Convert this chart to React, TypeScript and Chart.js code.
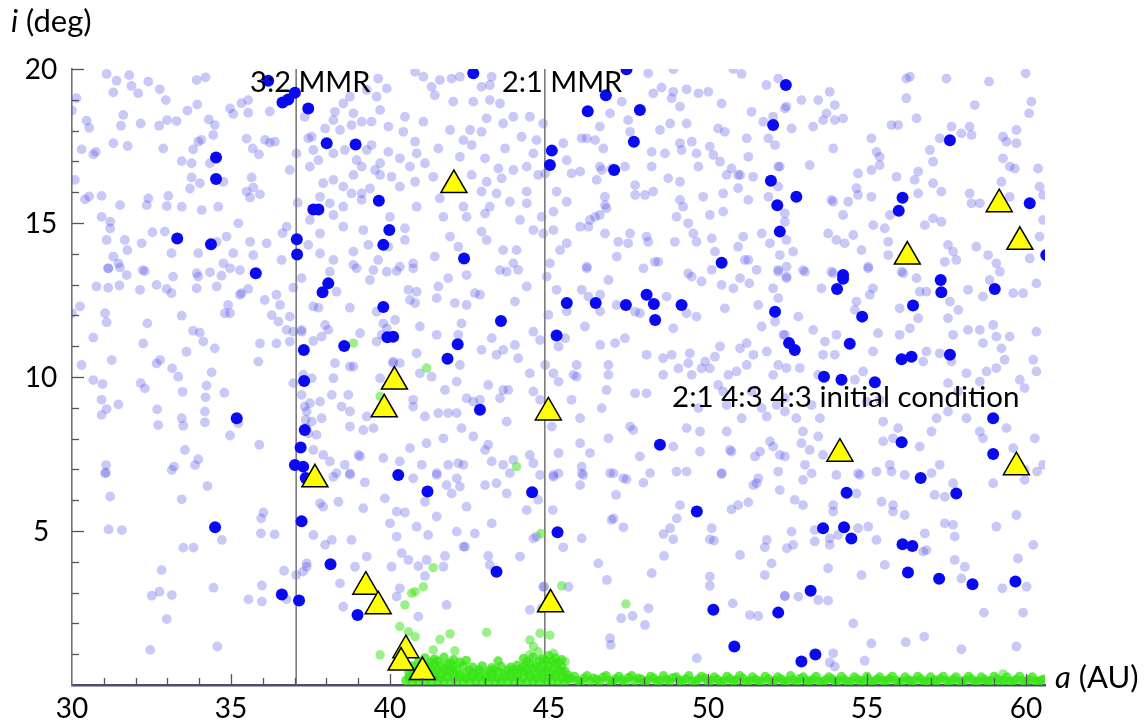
import React, { useEffect, useRef } from 'react';
import { Chart, registerables } from 'chart.js';
Chart.register(...registerables);

// ---- axis ticks ----
const xTickValues = [30, 35, 40, 45, 50, 55, 60];
const yTickValues = [5, 10, 15, 20];

// ---- resonance lines (a in AU) ----
const mmrA = [37.05, 44.87];
const mmrLabels = ['3:2 MMR', '2:1 MMR'];
const mmrLabelA = [35.6, 43.52];
const mmrLabelI = [19.56, 19.56];
const noteText = '2:1 4:3 4:3 initial condition';
const noteA = 48.87;
const noteI = 9.35;

// ---- initial field of test particles (light blue) ----
const lightNW: [number, number][] = [[31.09,19.84],[31.40,19.62],[31.80,19.80],[31.87,19.45],[31.30,19.24],[32.08,19.21],[32.40,19.59],[32.76,19.34],[32.95,18.99],[33.92,19.64],[34.20,19.73],[33.94,18.85],[33.63,18.65],[33.29,18.31],[32.99,18.34],[32.74,18.16],[32.16,18.23],[31.54,18.16],[31.61,18.51],[30.46,18.32],[30.54,18.09],[30.14,19.05],[30.0,18.65],[31.30,17.59],[31.75,17.50],[32.87,17.42],[33.81,17.39],[34.07,17.70],[34.30,18.36],[34.49,18.18],[34.44,17.86],[33.97,17.64],[33.45,17.01],[33.76,16.94],[33.76,16.48],[34.02,16.29],[33.71,16.12],[34.34,16.94],[34.76,16.34],[35.49,17.74],[35.68,17.42],[35.88,17.23],[36.07,17.70],[36.22,17.61],[36.38,17.64],[36.22,18.62],[35.54,18.58],[35.07,18.54],[34.97,18.72],[35.33,18.89],[35.54,18.99],[35.65,16.48],[35.49,16.02],[35.70,16.15],[35.91,15.93],[35.60,15.83],[35.23,14.99],[34.60,15.53],[34.08,15.42],[33.45,15.53],[32.98,15.55],[33.03,15.88],[32.40,15.80],[32.35,15.58],[31.51,15.58],[30.93,15.88],[30.54,15.86],[30.41,15.77],[30.09,16.40],[30.30,17.39],[30.67,17.23],[30.75,17.31],[30.93,15.20],[31.20,15.04],[31.20,14.82],[31.09,14.45],[31.66,14.45],[32.19,14.34],[32.53,14.70],[32.92,14.72],[33.13,14.02],[33.97,14.02],[34.55,14.39],[34.86,14.56],[35.07,14.02],[35.60,14.39],[36.12,14.34],[35.70,13.96],[36.59,13.80],[36.62,14.67],[36.75,14.88],[37.10,15.66],[36.85,16.72],[37.06,17.26],[37.43,17.75],[37.32,18.45],[31.30,13.91],[31.46,13.69],[31.14,13.53],[32.22,13.47],[31.74,14.12],[34.76,13.69],[35.28,13.47]];

const lightN: [number, number][] = [[39.63,19.69],[39.90,19.37],[39.58,19.10],[39.27,19.32],[38.74,19.10],[38.53,18.88],[38.27,18.61],[38.22,18.34],[38.85,18.56],[39.11,18.29],[39.42,18.29],[39.69,18.67],[39.95,18.13],[38.79,18.18],[37.96,18.07],[38.43,18.02],[37.54,17.80],[37.59,17.37],[37.48,16.83],[37.75,17.04],[38.22,17.26],[38.58,17.37],[38.95,17.04],[39.27,17.37],[39.42,17.53],[39.69,16.94],[39.53,16.72],[39.95,17.31],[40.31,17.10],[40.42,17.96],[40.47,18.45],[40.79,17.64],[40.84,17.26],[41.05,18.29],[41.31,19.42],[41.57,19.64],[41.94,19.69],[42.20,19.75],[41.05,19.75],[40.79,19.91],[41.41,19.15],[41.99,18.94],[42.62,18.94],[42.88,19.42],[43.20,19.75],[43.14,19.48],[43.46,18.88],[43.14,18.99],[43.04,18.40],[43.56,18.23],[43.88,18.45],[44.40,18.45],[44.61,17.69],[44.14,17.80],[43.62,17.42],[43.41,16.77],[43.88,16.72],[44.30,16.83],[44.66,16.56],[44.51,17.26],[42.88,17.96],[42.52,18.02],[41.89,18.02],[41.52,17.42],[42.31,17.69],[42.57,17.53],[42.20,17.15],[42.99,17.10],[42.57,16.56],[43.04,16.34],[42.88,16.02],[43.35,15.96],[43.51,16.45],[43.77,15.69],[44.30,16.02],[44.30,15.64],[43.14,15.53],[42.99,15.31],[42.41,15.20],[42.31,15.53],[41.57,15.80],[41.68,15.20],[41.36,16.50],[41.10,16.94],[40.63,16.83],[40.79,16.34],[40.31,16.18],[40.05,16.50],[39.69,16.56],[39.11,16.83],[38.85,16.56],[39.37,16.12],[39.11,15.96],[38.79,15.96],[38.53,16.18],[38.22,16.40],[37.90,16.29],[37.80,15.85],[38.11,15.64],[38.53,15.53],[39.11,15.75],[40.84,15.53],[40.00,15.20],[40.47,14.83],[39.95,14.23],[39.32,14.29],[38.85,14.07],[39.16,14.77],[38.53,14.88],[38.22,15.26],[37.80,14.66],[37.48,15.10],[37.43,14.29],[37.80,14.01],[38.22,13.80],[38.85,13.64],[39.63,13.80],[40.47,14.45],[40.73,13.69],[41.41,13.91],[41.89,14.56],[42.15,14.23],[42.88,14.72],[43.04,14.45],[43.56,14.12],[43.98,14.12],[43.88,13.69],[44.09,15.10],[44.51,14.77],[44.77,15.20],[44.82,14.66],[43.46,13.47],[40.31,13.58],[39.48,13.47]];

const lightNE: [number, number][] = [[48.12,19.86],[48.91,19.99],[48.54,19.40],[48.28,19.21],[48.91,19.26],[49.33,19.34],[49.70,19.21],[50.01,19.26],[49.12,18.78],[48.86,19.05],[50.43,18.88],[51.06,19.84],[50.80,20.0],[51.37,18.61],[51.84,19.48],[52.21,19.69],[52.47,18.78],[51.74,18.29],[52.05,18.45],[51.90,17.75],[52.11,17.53],[51.22,17.75],[51.27,17.15],[50.74,16.77],[50.95,16.56],[50.59,16.56],[50.32,18.07],[50.53,17.96],[50.06,17.48],[50.17,17.21],[50.38,16.99],[49.64,17.26],[49.70,16.83],[49.49,17.64],[49.12,17.59],[49.17,17.37],[48.65,17.26],[48.23,17.31],[48.49,18.02],[48.81,18.23],[49.33,18.23],[47.49,18.34],[47.29,18.94],[46.92,18.56],[46.60,18.13],[46.71,17.42],[46.45,17.69],[46.19,17.75],[45.98,16.67],[45.56,17.04],[45.45,17.59],[46.60,16.83],[46.97,16.77],[46.76,15.85],[46.50,16.40],[47.39,16.83],[47.55,17.96],[47.71,16.23],[47.71,15.91],[48.02,15.91],[48.28,16.02],[48.23,16.83],[48.75,16.45],[49.12,16.34],[49.12,15.75],[49.22,15.53],[49.01,15.20],[49.38,14.99],[49.85,15.85],[50.06,15.26],[50.48,15.96],[50.48,15.37],[50.95,16.13],[51.01,16.56],[51.27,15.75],[51.90,15.85],[52.21,16.18],[52.21,16.83],[52.42,15.31],[51.95,14.34],[52.26,13.96],[52.21,13.42],[51.11,14.56],[50.95,14.23],[51.16,13.80],[51.27,13.80],[50.12,14.50],[50.22,14.07],[49.54,14.66],[49.64,14.39],[48.96,14.39],[48.44,13.74],[48.33,13.74],[48.07,14.56],[48.12,14.39],[47.55,14.66],[47.49,14.34],[47.13,13.91],[46.76,14.66],[46.45,15.20],[46.60,15.26],[46.29,15.10],[46.24,14.88],[46.81,15.48],[46.76,15.58],[45.98,14.88],[45.56,14.34],[45.35,14.12],[45.03,13.69],[46.19,13.58],[47.97,13.53],[49.38,13.36],[45.24,16.02],[45.56,15.69],[45.14,15.37],[45.14,14.77],[44.88,16.61],[44.82,18.23],[46.03,17.75],[45.71,16.61],[46.66,16.72],[47.18,14.39],[51.42,16.50],[51.69,14.66]];

const lightFarNE: [number, number][] = [[56.24,19.69],[56.35,19.75],[57.50,19.69],[58.84,19.59],[59.99,19.86],[56.24,19.05],[56.56,18.40],[55.77,18.18],[55.98,18.18],[53.83,19.26],[53.47,18.99],[52.94,18.99],[52.42,18.72],[53.99,18.83],[53.73,18.56],[53.62,18.34],[53.99,18.34],[54.25,18.40],[53.31,18.13],[52.63,18.07],[53.94,17.42],[55.14,17.75],[55.30,17.31],[55.40,17.15],[55.14,16.72],[55.40,16.88],[54.72,16.61],[53.20,16.88],[55.93,16.50],[56.61,16.67],[56.50,16.40],[56.98,17.37],[57.08,16.99],[57.29,17.75],[57.66,18.13],[57.97,17.91],[58.23,18.13],[58.29,17.86],[58.39,18.83],[59.28,17.80],[59.39,17.64],[59.70,18.02],[59.70,17.59],[59.28,17.10],[59.49,16.83],[59.65,16.77],[60.38,16.77],[60.17,18.94],[60.10,18.56],[59.23,16.34],[60.43,16.18],[60.54,15.91],[57.08,16.29],[57.34,16.02],[56.61,15.96],[55.14,15.85],[54.72,15.91],[54.67,16.13],[54.41,15.69],[53.88,15.75],[53.94,15.69],[54.25,15.26],[54.57,14.61],[54.04,14.45],[53.78,14.66],[54.30,14.34],[54.83,14.12],[55.20,14.93],[55.56,14.83],[55.72,15.26],[55.67,14.39],[56.82,14.93],[57.08,15.15],[57.34,15.04],[57.55,14.29],[57.71,14.07],[57.81,13.80],[57.45,13.74],[58.23,15.96],[58.29,15.64],[58.55,15.64],[58.44,14.23],[58.81,13.96],[59.07,13.69],[59.49,15.85],[60.12,13.85],[60.54,15.10],[60.43,14.56],[52.99,13.47],[53.88,13.42],[52.68,14.07],[52.42,15.04],[52.47,14.45],[55.04,13.58],[55.67,13.96],[56.09,13.42],[52.26,16.83]];

const lightW: [number, number][] = [[31.14,13.53],[31.51,13.55],[31.72,13.31],[32.29,13.44],[30.77,12.94],[31.14,12.90],[31.49,12.97],[32.14,12.83],[32.66,12.99],[32.98,12.86],[33.13,12.72],[33.18,13.26],[33.92,13.37],[33.97,13.26],[34.34,13.40],[34.70,13.29],[34.97,13.53],[34.55,12.94],[33.92,12.88],[35.33,12.72],[35.54,12.86],[35.28,12.67],[36.06,12.50],[36.43,12.67],[36.54,12.34],[36.96,12.90],[37.22,13.21],[34.91,12.34],[34.81,12.07],[34.97,12.07],[36.28,12.01],[36.85,11.96],[36.49,11.80],[36.75,11.53],[36.85,11.15],[37.22,11.47],[36.43,11.09],[35.91,11.09],[35.86,10.50],[30.25,12.29],[30.0,12.07],[31.04,12.07],[31.09,11.78],[30.67,11.28],[32.37,11.74],[32.24,11.09],[33.45,11.99],[33.81,11.50],[34.02,11.44],[34.13,11.15],[34.49,10.93],[33.60,10.82],[31.25,10.55],[30.30,10.39],[30.67,9.90],[30.96,9.77],[30.93,9.26],[31.09,8.96],[30.93,8.77],[31.46,9.11],[32.16,9.80],[32.29,9.63],[32.66,10.44],[32.77,10.55],[33.15,10.28],[33.34,10.01],[34.39,10.15],[34.23,9.72],[34.20,9.34],[34.79,9.49],[33.48,9.52],[32.68,8.95],[32.71,8.44],[33.45,8.66],[33.50,8.42],[34.18,8.88],[34.18,8.53],[34.97,8.10],[35.23,8.50],[35.89,7.80],[33.55,7.63],[33.97,7.33],[33.87,7.14],[33.21,7.09],[31.07,7.14],[31.07,6.90],[36.96,9.80],[37.22,9.42],[37.32,9.04],[37.35,8.61],[37.43,8.17],[36.96,11.47]];

const lightC: [number, number][] = [[38.11,13.42],[38.95,13.53],[39.37,13.15],[39.90,13.42],[40.21,13.44],[40.73,13.53],[41.52,12.94],[41.83,13.21],[42.41,13.31],[42.67,12.72],[42.83,12.67],[42.04,12.40],[42.41,12.34],[41.47,12.56],[40.84,12.77],[40.58,12.83],[40.63,12.50],[40.79,12.40],[43.67,13.42],[44.03,13.48],[44.30,12.94],[43.93,12.45],[37.59,12.29],[37.75,12.25],[38.32,12.77],[38.74,12.25],[37.96,11.69],[38.06,11.53],[37.59,11.17],[37.85,11.31],[37.22,11.53],[39.06,11.42],[39.58,12.12],[39.79,11.74],[39.90,11.58],[39.74,11.37],[39.58,11.15],[40.16,11.85],[40.94,11.64],[41.47,11.37],[42.25,11.74],[42.15,11.37],[42.88,10.88],[43.20,11.26],[43.35,10.72],[43.56,10.88],[44.03,10.61],[43.93,11.04],[44.40,10.12],[44.51,11.47],[44.72,11.20],[40.84,10.77],[40.31,10.45],[40.10,10.45],[38.27,10.45],[38.85,10.34],[38.74,10.34],[38.22,9.96],[37.54,9.96],[37.27,10.07],[38.17,9.42],[37.80,9.20],[37.48,9.15],[37.38,8.88],[38.69,9.42],[38.48,9.04],[38.74,8.88],[37.85,8.66],[37.54,8.55],[37.38,8.34],[37.69,8.12],[38.74,8.39],[39.16,8.28],[39.48,8.34],[39.69,9.96],[40.10,10.50],[40.26,9.80],[40.73,9.26],[40.73,9.04],[40.94,10.12],[41.31,10.01],[41.10,8.72],[41.73,9.58],[42.10,9.85],[42.20,10.39],[42.41,9.31],[42.62,9.20],[43.09,9.74],[43.56,9.58],[43.72,9.58],[43.46,9.31],[41.83,8.83],[42.10,8.83],[41.52,8.83],[42.25,8.34],[42.83,9.26],[43.67,8.55],[44.51,9.53],[44.72,9.26],[40.63,7.69],[41.15,7.85],[41.68,8.01],[41.83,7.15],[41.47,6.88],[41.00,7.15],[40.31,7.26],[39.79,7.37],[39.06,7.42],[39.01,7.47],[38.58,7.15],[38.32,6.88],[38.11,7.26],[37.90,7.47],[37.59,7.63],[38.74,6.83],[42.15,7.20],[42.31,7.15],[42.99,7.63],[43.09,7.80],[43.20,7.26],[43.56,7.15],[43.88,7.31],[44.40,7.47],[44.51,7.20],[43.77,6.88],[44.72,6.82],[40.73,6.71],[40.16,9.91],[39.27,8.72],[42.62,8.07]];

const lightE: [number, number][] = [[44.93,13.26],[46.19,13.53],[46.87,13.15],[45.24,12.83],[46.03,12.83],[46.24,12.61],[46.61,12.67],[47.13,12.34],[47.71,12.12],[47.86,12.07],[46.61,12.13],[45.56,12.13],[44.98,12.02],[46.13,11.64],[45.30,10.99],[45.51,11.26],[45.14,10.12],[45.30,9.85],[44.88,10.39],[45.87,10.01],[45.77,10.07],[46.61,11.04],[47.08,11.10],[47.39,11.26],[46.87,10.39],[46.87,10.07],[46.81,9.58],[46.66,8.99],[45.71,9.26],[45.98,8.66],[45.09,8.39],[47.71,9.47],[48.07,9.47],[48.07,10.72],[48.59,10.61],[48.86,10.72],[48.59,10.07],[48.91,11.58],[48.70,12.61],[49.33,12.07],[49.64,11.96],[49.49,13.26],[49.80,13.10],[50.12,13.48],[50.43,12.99],[50.80,12.88],[51.01,13.21],[51.30,13.04],[51.53,13.48],[52.05,12.88],[52.21,13.48],[52.47,13.21],[52.21,12.56],[51.58,12.34],[50.53,12.23],[51.69,11.64],[52.11,11.80],[52.37,11.37],[51.22,11.10],[51.01,10.93],[51.43,10.72],[51.22,10.39],[51.85,10.83],[52.21,10.39],[52.05,10.07],[50.90,10.18],[50.64,10.07],[50.38,10.99],[50.22,10.66],[49.91,10.50],[50.06,10.28],[49.43,10.77],[49.38,10.45],[49.49,10.07],[49.80,10.28],[49.07,10.28],[50.32,9.74],[50.48,9.53],[50.59,9.09],[49.70,8.99],[51.37,9.53],[51.69,8.99],[51.85,8.72],[52.16,9.09],[52.42,9.31],[51.06,8.66],[50.59,8.23],[49.75,8.23],[49.33,8.34],[48.91,7.74],[47.55,8.39],[47.65,8.28],[46.87,8.01],[45.98,7.85],[46.29,7.53],[45.30,7.53],[45.14,6.82],[46.03,7.09],[46.08,6.82],[46.92,6.88],[47.34,6.71],[47.86,7.42],[48.18,6.88],[49.01,6.93],[49.75,7.58],[50.43,6.88],[50.69,7.63],[50.74,7.58],[51.48,7.42],[51.64,7.58],[51.95,7.91],[52.05,7.74],[52.26,7.47],[51.58,6.71],[52.21,6.93],[52.47,13.58],[45.87,10.39]];

const lightFarE: [number, number][] = [[52.47,13.26],[53.05,13.42],[53.94,13.37],[53.57,12.88],[55.04,13.53],[55.19,12.88],[55.09,12.67],[56.14,13.37],[56.56,13.21],[56.66,12.77],[56.87,12.77],[57.61,12.45],[57.87,12.18],[58.18,12.83],[58.65,12.61],[58.86,13.15],[59.60,12.72],[59.91,12.72],[60.33,13.04],[59.18,13.42],[52.84,11.96],[52.42,11.37],[53.31,11.53],[53.68,11.15],[54.04,11.37],[54.67,12.45],[54.62,12.18],[55.35,11.42],[56.03,11.37],[56.35,11.58],[56.03,12.23],[56.61,11.91],[57.55,11.91],[57.71,11.37],[58.18,11.53],[58.55,11.53],[58.97,11.69],[58.65,11.10],[59.07,11.31],[59.23,10.93],[59.49,11.31],[60.33,11.47],[60.23,10.56],[59.07,10.29],[59.33,10.56],[58.76,10.18],[58.13,10.12],[57.66,10.50],[57.29,10.77],[56.87,10.83],[56.77,10.50],[56.45,10.66],[55.19,10.83],[54.88,10.18],[54.62,9.91],[53.99,10.72],[53.62,10.72],[53.47,10.07],[52.89,10.29],[52.47,10.29],[57.55,9.80],[57.87,9.53],[58.55,9.85],[59.81,9.91],[60.33,10.18],[59.96,9.64],[53.52,8.66],[52.78,8.66],[52.42,8.88],[52.99,8.23],[53.47,8.07],[52.94,7.85],[53.20,7.63],[53.62,7.47],[53.05,7.15],[52.42,7.42],[55.51,8.55],[55.98,8.34],[55.82,8.01],[55.51,7.91],[56.66,7.74],[57.03,8.23],[57.19,8.66],[57.55,8.88],[58.13,8.66],[58.55,8.23],[58.65,8.01],[59.39,8.34],[59.60,7.69],[60.28,8.01],[60.54,7.15],[59.96,6.99],[57.29,7.15],[57.03,6.88],[55.72,7.15],[55.30,6.93],[54.78,6.82],[54.04,6.82],[54.99,9.20],[55.40,9.26],[53.26,9.09]];

const lightSW: [number, number][] = [[31.04,6.87],[31.20,6.12],[31.15,5.05],[31.57,5.03],[33.45,6.03],[34.26,6.46],[34.71,4.71],[33.50,4.46],[33.82,4.46],[32.82,3.73],[32.75,3.03],[32.51,2.90],[33.14,2.92],[32.98,2.14],[32.46,1.14],[34.45,3.16],[34.57,1.25],[35.55,2.78],[35.97,2.71],[35.97,3.23],[36.67,3.71],[37.05,3.57],[36.37,4.89],[35.94,4.92],[35.95,5.41],[36.02,5.60],[36.75,2.78],[37.38,3.84],[33.14,6.98]];

const lightS: [number, number][] = [[38.22,6.76],[38.74,6.87],[39.21,6.58],[38.38,5.95],[37.90,5.79],[39.16,5.74],[39.84,6.06],[40.21,5.63],[40.47,5.60],[40.00,5.25],[40.84,5.14],[41.47,5.47],[41.20,4.87],[41.10,5.95],[41.47,6.82],[41.78,6.49],[42.10,6.71],[42.20,6.44],[41.94,6.22],[42.41,5.79],[42.99,6.49],[43.35,6.55],[43.67,6.22],[44.30,5.68],[44.66,6.01],[43.20,5.25],[42.67,4.92],[42.10,4.98],[42.36,4.49],[42.31,4.49],[41.73,4.19],[43.09,4.19],[43.14,3.90],[44.09,4.17],[44.51,4.76],[41.68,3.84],[41.15,4.06],[41.10,3.54],[40.89,3.86],[40.58,4.06],[40.37,4.28],[40.21,4.82],[40.05,3.84],[40.31,3.14],[40.21,2.87],[40.89,2.22],[41.78,2.60],[39.27,4.17],[38.90,3.84],[38.43,3.30],[38.53,2.54],[38.17,4.71],[37.96,4.55],[37.59,4.87],[37.27,3.68],[37.80,5.90],[37.38,3.95],[44.82,3.19],[44.77,2.49],[44.40,2.44],[44.61,4.82],[38.79,4.71]];

const lightSE: [number, number][] = [[45.14,6.76],[45.30,6.87],[46.03,6.87],[45.98,6.49],[47.03,6.87],[47.44,6.68],[47.97,6.57],[47.11,6.17],[49.33,6.93],[50.43,6.85],[51.53,6.55],[51.43,6.49],[52.26,6.33],[51.27,5.93],[50.95,5.84],[50.74,5.70],[49.12,5.84],[49.02,5.41],[48.81,5.09],[48.60,4.90],[48.91,4.73],[50.12,5.09],[50.06,4.73],[50.19,4.69],[51.01,4.22],[51.85,4.71],[51.79,4.47],[52.00,3.95],[51.79,3.57],[52.48,4.44],[52.42,2.89],[51.32,2.27],[51.58,2.24],[50.78,2.65],[50.06,3.52],[50.06,3.22],[48.23,3.63],[48.62,4.19],[48.13,2.49],[48.02,1.95],[47.63,2.24],[47.27,2.17],[46.92,1.52],[46.94,1.30],[46.82,3.41],[46.55,3.95],[46.03,4.76],[45.45,4.47],[45.12,5.68],[47.03,5.41],[47.34,5.12],[46.97,5.36],[49.65,0.87],[45.61,3.19],[44.85,3.19]];

const lightFarSE: [number, number][] = [[52.99,6.66],[53.26,6.87],[54.72,6.87],[55.77,6.93],[56.19,6.82],[57.13,6.17],[57.71,6.55],[58.97,6.55],[59.96,6.66],[60.35,6.93],[54.67,6.22],[52.73,6.01],[52.99,5.84],[53.94,5.84],[53.94,5.63],[55.46,5.95],[55.82,5.84],[55.82,5.63],[56.19,5.52],[57.45,5.25],[57.76,4.82],[56.82,4.92],[56.77,4.33],[56.87,4.38],[57.76,4.06],[58.08,3.84],[57.97,3.46],[59.70,5.52],[59.07,5.14],[60.23,4.55],[59.75,4.11],[59.26,3.14],[60.02,3.19],[58.68,2.35],[59.91,2.35],[59.70,1.25],[57.97,1.16],[56.80,1.57],[56.22,1.39],[55.14,1.35],[54.93,0.79],[53.94,1.03],[53.83,0.73],[53.99,0.60],[54.57,2.00],[54.83,3.57],[55.56,3.90],[53.78,3.79],[53.47,2.76],[53.78,2.74],[52.42,2.89],[52.84,2.87],[52.63,4.98],[52.68,4.55],[53.36,4.66],[53.36,5.03],[53.83,4.76],[53.83,4.55],[54.09,4.87],[54.72,5.09],[55.04,5.14],[55.30,4.71],[57.71,5.20],[57.45,6.11]];

// ---- surviving objects (dark blue) ----
const survivorsNorth: [number, number][] = [[36.17,19.62],[36.62,18.91],[36.80,19.01],[37.01,19.23],[37.43,18.72],[34.53,17.13],[34.53,16.43],[33.31,14.50],[34.37,14.31],[37.07,14.47],[37.08,13.98],[35.78,13.37],[42.62,19.86],[38.01,17.59],[38.92,17.55],[39.65,15.72],[37.59,15.44],[37.75,15.44],[39.98,14.77],[39.79,14.29],[42.33,13.85],[47.44,19.99],[46.79,19.15],[46.22,18.63],[47.86,18.67],[47.67,17.64],[45.09,17.35],[45.03,16.88],[47.05,16.72],[52.45,19.48],[52.05,18.18],[51.98,16.37],[52.18,15.58],[52.26,14.72],[50.43,13.71],[57.61,17.69],[52.78,15.85],[56.12,15.82],[56.00,15.40],[60.12,15.64],[60.64,13.96],[54.25,13.31]];
const survivorsMiddle: [number, number][] = [[35.18,8.66],[37.29,10.88],[37.30,9.87],[37.32,8.28],[37.19,7.71],[37.01,7.14],[37.27,7.09],[38.06,13.04],[37.88,12.75],[39.79,12.27],[39.92,11.29],[40.10,11.31],[38.56,11.01],[43.49,11.82],[42.13,11.06],[41.81,10.59],[42.83,8.94],[40.26,6.82],[45.56,12.40],[46.47,12.40],[47.42,12.34],[48.07,12.67],[48.30,12.37],[48.34,11.85],[49.17,12.34],[45.24,11.35],[52.11,12.12],[52.55,11.10],[48.49,7.80],[54.25,13.19],[54.06,12.86],[57.32,13.15],[57.34,12.75],[59.02,12.86],[56.45,12.32],[54.85,11.96],[52.73,10.88],[54.46,11.08],[56.09,10.58],[56.40,10.66],[57.61,10.72],[53.65,10.01],[54.20,9.91],[55.25,9.83],[58.97,8.66],[56.09,7.88],[58.97,7.50],[56.69,6.72]];
const survivorsSouth: [number, number][] = [[34.50,5.12],[36.60,2.94],[37.14,2.74],[37.22,5.32],[37.35,6.72],[41.18,6.28],[44.47,6.26],[38.13,3.92],[43.35,3.68],[38.98,2.27],[45.27,4.96],[49.65,5.63],[50.17,2.44],[52.21,2.35],[50.83,1.25],[57.81,6.22],[54.36,6.24],[53.62,5.09],[54.28,5.12],[54.51,4.76],[56.12,4.57],[56.43,4.51],[56.29,3.65],[57.27,3.45],[58.32,3.27],[59.67,3.36],[53.23,3.06],[53.38,0.99],[52.94,0.76]];

// ---- captured / low-inclination objects (green) ----
const greenScatter: [number, number][] = [[38.85,11.10],[41.15,10.29],[39.69,9.37],[43.98,7.09],[45.40,3.22],[47.42,2.63],[44.75,4.92],[41.36,3.81],[41.05,3.19],[40.79,3.03],[40.68,2.98],[40.47,2.60],[43.04,1.71],[41.89,1.66],[41.57,1.48],[42.04,1.11],[40.31,1.90],[40.58,1.73],[40.79,1.57],[39.69,0.98],[44.40,1.46],[44.72,1.68],[44.51,1.25],[44.66,1.08],[44.40,0.98],[41.36,1.14],[45.03,1.62],[45.14,1.03],[45.51,0.76],[59.28,0.36]];
const greenMound: [number, number][] = [[40.5,0.15],[40.7,0.1],[40.9,0.14],[41.1,0.12],[41.3,0.1],[41.5,0.15],[41.7,0.12],[41.9,0.1],[42.1,0.14],[42.3,0.12],[42.5,0.1],[42.7,0.15],[42.9,0.12],[43.1,0.1],[43.3,0.14],[43.5,0.12],[43.7,0.1],[43.9,0.15],[44.1,0.12],[44.3,0.1],[44.5,0.14],[44.7,0.12],[44.9,0.1],[45.1,0.14],[45.3,0.12],[45.5,0.1],[40.6,0.4],[40.8,0.35],[41.0,0.42],[41.2,0.38],[41.4,0.4],[41.6,0.36],[41.8,0.42],[42.0,0.38],[42.2,0.35],[42.4,0.4],[42.6,0.36],[42.8,0.4],[43.0,0.34],[43.2,0.38],[43.4,0.42],[43.6,0.36],[43.8,0.4],[44.0,0.38],[44.2,0.42],[44.4,0.36],[44.6,0.4],[44.8,0.38],[45.0,0.42],[45.2,0.36],[45.4,0.4],[45.6,0.32],[40.7,0.62],[41.0,0.68],[41.2,0.6],[41.4,0.7],[41.6,0.62],[41.8,0.66],[42.0,0.6],[42.3,0.64],[42.6,0.58],[42.9,0.62],[43.2,0.56],[43.5,0.6],[43.8,0.58],[44.0,0.64],[44.2,0.6],[44.4,0.68],[44.6,0.62],[44.8,0.7],[45.0,0.64],[45.2,0.68],[45.4,0.6],[41.1,0.88],[41.4,0.84],[41.7,0.9],[42.0,0.82],[42.4,0.8],[43.4,0.78],[44.2,0.86],[44.5,0.9],[44.8,0.85],[45.0,0.95],[45.2,0.88],[45.4,0.82]];
const greenMoundFill: [number, number][] = [[40.6,0.25],[40.8,0.22],[41.0,0.27],[41.2,0.24],[41.4,0.26],[41.6,0.22],[41.8,0.27],[42.0,0.23],[42.2,0.26],[42.4,0.22],[42.6,0.25],[42.8,0.27],[43.0,0.23],[43.2,0.25],[43.4,0.22],[43.6,0.26],[43.8,0.24],[44.0,0.27],[44.2,0.23],[44.4,0.25],[44.6,0.22],[44.8,0.26],[45.0,0.24],[45.2,0.27],[45.4,0.23],[45.6,0.2],[40.7,0.5],[40.9,0.52],[41.1,0.48],[41.3,0.54],[41.5,0.5],[41.7,0.52],[41.9,0.48],[42.1,0.5],[42.5,0.48],[42.8,0.5],[43.1,0.46],[43.3,0.5],[43.7,0.48],[43.9,0.5],[44.1,0.52],[44.3,0.48],[44.5,0.54],[44.7,0.5],[44.9,0.52],[45.1,0.5],[45.3,0.48],[45.5,0.45],[40.9,0.76],[41.3,0.74],[41.5,0.78],[41.9,0.72],[42.2,0.74],[44.3,0.75],[44.7,0.78],[44.9,0.8],[45.1,0.76],[45.3,0.72]];
const greenBand: [number, number][] = [[45.7,0.2],[45.9,0.15],[46.1,0.22],[46.3,0.12],[46.5,0.18],[46.7,0.25],[46.9,0.14],[47.1,0.2],[47.3,0.16],[47.5,0.24],[47.7,0.13],[47.9,0.19],[48.1,0.15],[48.3,0.22],[48.5,0.14],[48.7,0.18],[48.9,0.24],[49.1,0.15],[49.3,0.2],[49.5,0.13],[49.7,0.19],[49.9,0.22],[50.1,0.15],[50.3,0.18],[50.5,0.13],[50.7,0.2],[50.9,0.16],[51.1,0.22],[51.3,0.14],[51.5,0.18],[51.7,0.12],[51.9,0.2],[52.1,0.15],[52.3,0.19],[52.5,0.13],[52.7,0.17],[52.9,0.21],[53.1,0.14],[53.3,0.18],[53.5,0.12],[53.7,0.16],[53.9,0.2],[54.1,0.14],[54.3,0.17],[54.5,0.12],[54.7,0.19],[54.9,0.15],[55.1,0.13],[55.3,0.18],[55.5,0.14],[55.7,0.2],[55.9,0.15],[56.1,0.12],[56.3,0.17],[56.5,0.14],[56.7,0.19],[56.9,0.13],[57.1,0.16],[57.3,0.2],[57.5,0.14],[57.7,0.18],[57.9,0.12],[58.1,0.16],[58.3,0.19],[58.5,0.13],[58.7,0.17],[58.9,0.14],[59.1,0.2],[59.3,0.15],[59.5,0.12],[59.7,0.18],[59.9,0.14],[60.1,0.17],[60.3,0.13],[60.5,0.16]];
const greenBandFill: [number, number][] = [[45.8,0.28],[46.0,0.1],[46.2,0.3],[46.4,0.22],[46.6,0.1],[46.8,0.3],[47.0,0.12],[47.2,0.28],[47.4,0.1],[47.6,0.3],[47.8,0.22],[48.0,0.1],[48.2,0.28],[48.4,0.12],[48.6,0.3],[48.8,0.1],[49.0,0.26],[49.2,0.12],[49.4,0.3],[49.6,0.1],[49.8,0.28],[50.0,0.12],[50.2,0.26],[50.4,0.1],[50.6,0.28],[50.8,0.12],[51.0,0.3],[51.2,0.1],[51.4,0.26],[51.6,0.12],[51.8,0.28],[52.0,0.1],[52.2,0.26],[52.4,0.12],[52.6,0.3],[52.8,0.1],[53.0,0.26],[53.2,0.12],[53.4,0.28],[53.6,0.1],[53.8,0.26],[54.0,0.12],[54.2,0.28],[54.4,0.1],[54.6,0.26],[54.8,0.12],[55.0,0.28],[55.2,0.1],[55.4,0.26],[55.6,0.12],[55.8,0.28],[56.0,0.1],[56.2,0.26],[56.4,0.12],[56.6,0.28],[56.8,0.1],[57.0,0.26],[57.2,0.12],[57.4,0.28],[57.6,0.1],[57.8,0.26],[58.0,0.12],[58.2,0.28],[58.4,0.1],[58.6,0.26],[58.8,0.12],[59.0,0.28],[59.2,0.1],[59.4,0.26],[59.6,0.12],[59.8,0.28],[60.0,0.1],[60.2,0.26],[60.4,0.12],[60.6,0.2]];

// ---- yellow triangles ----
const trianglePts: [number, number][] = [[42.01,16.23],[59.16,15.61],[59.81,14.39],[56.27,13.91],[40.14,9.85],[39.82,8.95],[44.98,8.85],[54.15,7.51],[59.70,7.07],[37.64,6.68],[39.24,3.19],[39.63,2.56],[45.05,2.62],[40.50,1.13],[40.35,0.73],[41.02,0.42]];

const toXY = (arr: [number, number][]) => arr.map(([a, i]) => ({ x: a, y: i }));

const FONT = 'Lato, "Open Sans", sans-serif';

const decorPlugin = {
  id: 'decor',
  afterDatasetsDraw(chart: any) {
    const { ctx, chartArea, scales } = chart;
    const xs = scales.x, ys = scales.y;
    ctx.save();
    ctx.strokeStyle = '#555';
    ctx.lineWidth = 1.3;
    for (let v = 31; v <= 60; v++) {
      const px = Math.round(xs.getPixelForValue(v)) + 0.5;
      const len = v % 5 === 0 ? 11 : 7;
      ctx.beginPath(); ctx.moveTo(px, chartArea.bottom); ctx.lineTo(px, chartArea.bottom - len); ctx.stroke();
    }
    for (let v = 1; v <= 20; v++) {
      const py = Math.round(ys.getPixelForValue(v)) + 0.5;
      const len = v % 5 === 0 ? 12 : 7;
      ctx.beginPath(); ctx.moveTo(chartArea.left, py); ctx.lineTo(chartArea.left + len, py); ctx.stroke();
    }
    ctx.fillStyle = '#000';
    ctx.textBaseline = 'middle';
    ctx.textAlign = 'left';
    ctx.font = `29px ${FONT}`;
    mmrLabels.forEach((t, k) => {
      ctx.fillText(t, xs.getPixelForValue(mmrLabelA[k]), ys.getPixelForValue(mmrLabelI[k]));
    });
    ctx.font = `29.5px ${FONT}`;
    ctx.fillText(noteText, xs.getPixelForValue(noteA), ys.getPixelForValue(noteI));
    ctx.restore();
  },
  afterDraw(chart: any) {
    const { ctx, chartArea, scales } = chart;
    const ys = scales.y;
    ctx.save();
    ctx.fillStyle = '#000';
    // y tick labels, centred in the left margin
    ctx.font = `28px ${FONT}`;
    ctx.textAlign = 'center';
    ctx.textBaseline = 'middle';
    yTickValues.forEach((v) => {
      ctx.fillText(String(v), chartArea.left - 31, ys.getPixelForValue(v) + 1);
    });
    ctx.textAlign = 'left';
    ctx.font = `italic 31px ${FONT}`;
    ctx.fillText('i', 11, 22);
    let w = ctx.measureText('i').width;
    ctx.font = `31px ${FONT}`;
    ctx.fillText(' (deg)', 11 + w, 22);
    ctx.font = `italic 31px ${FONT}`;
    ctx.fillText('a', 1055, 678);
    w = ctx.measureText('a').width;
    ctx.font = `31px ${FONT}`;
    ctx.fillText(' (AU)', 1055 + w, 678);
    ctx.restore();
  },
};

export default function App() {
  const ref = useRef<HTMLCanvasElement | null>(null);
  useEffect(() => {
    if (!ref.current) return;
    const light = [...lightNW, ...lightN, ...lightNE, ...lightFarNE, ...lightW, ...lightC, ...lightE, ...lightFarE, ...lightSW, ...lightS, ...lightSE, ...lightFarSE];
    const dark = [...survivorsNorth, ...survivorsMiddle, ...survivorsSouth];
    const greenDense = [...greenBand, ...greenBandFill, ...greenMound, ...greenMoundFill];
    const chart = new Chart(ref.current, {
      type: 'scatter',
      data: {
        datasets: [
          { label: 'tri', data: toXY(trianglePts), pointStyle: 'triangle', pointRadius: 15, backgroundColor: '#ffff00', borderColor: '#000', borderWidth: 1.5, order: 0 },
          { label: 'dark', data: toXY(dark), pointRadius: 6, backgroundColor: '#0a0af2', borderWidth: 0, order: 1 },
          { label: 'greenDense', data: toXY(greenDense), pointRadius: 4.7, backgroundColor: 'rgba(55,228,20,0.75)', borderWidth: 0, order: 2 },
          { label: 'greenScatter', data: toXY(greenScatter), pointRadius: 4.7, backgroundColor: 'rgba(55,228,20,0.5)', borderWidth: 0, order: 2 },
          ...mmrA.map((a, k) => ({ label: 'mmr' + k, data: [{ x: a, y: 0 }, { x: a, y: 20 }], showLine: true, pointRadius: 0, borderColor: '#7a7a7a', borderWidth: 1.6, order: 3 })),
          { label: 'light', data: toXY(light), pointRadius: 4.9, backgroundColor: 'rgba(60,60,230,0.28)', borderWidth: 0, order: 4 },
        ] as any,
      },
      options: {
        responsive: false,
        animation: false,
        layout: { padding: { top: 69, right: 100, left: 0, bottom: 0 } },
        plugins: { legend: { display: false }, tooltip: { enabled: false } },
        scales: {
          x: {
            type: 'linear', min: 30, max: 60.6,
            afterFit: (s: any) => { s.height = 38; },
            afterBuildTicks: (s: any) => { s.ticks = xTickValues.map((v) => ({ value: v })); },
            grid: { display: false, drawTicks: false },
            border: { display: true, color: '#4c4c70', width: 2.5 },
            ticks: { color: '#000', font: { family: FONT, size: 28 }, padding: 7, maxRotation: 0, autoSkip: false },
          },
          y: {
            type: 'linear', min: 0, max: 20,
            afterFit: (s: any) => { s.width = 72; },
            afterBuildTicks: (s: any) => { s.ticks = yTickValues.map((v) => ({ value: v })); },
            grid: { display: false, drawTicks: false },
            border: { display: true, color: '#707070', width: 1.6 },
            ticks: { display: false },
          },
        },
      } as any,
      plugins: [decorPlugin],
    });
    return () => chart.destroy();
  }, []);
  return (
    <div style={{ position: 'absolute', left: 0, top: 0, width: 1145, height: 723, background: '#fff' }}>
      <canvas ref={ref} width={1145} height={723} style={{ display: 'block' }} />
    </div>
  );
}
